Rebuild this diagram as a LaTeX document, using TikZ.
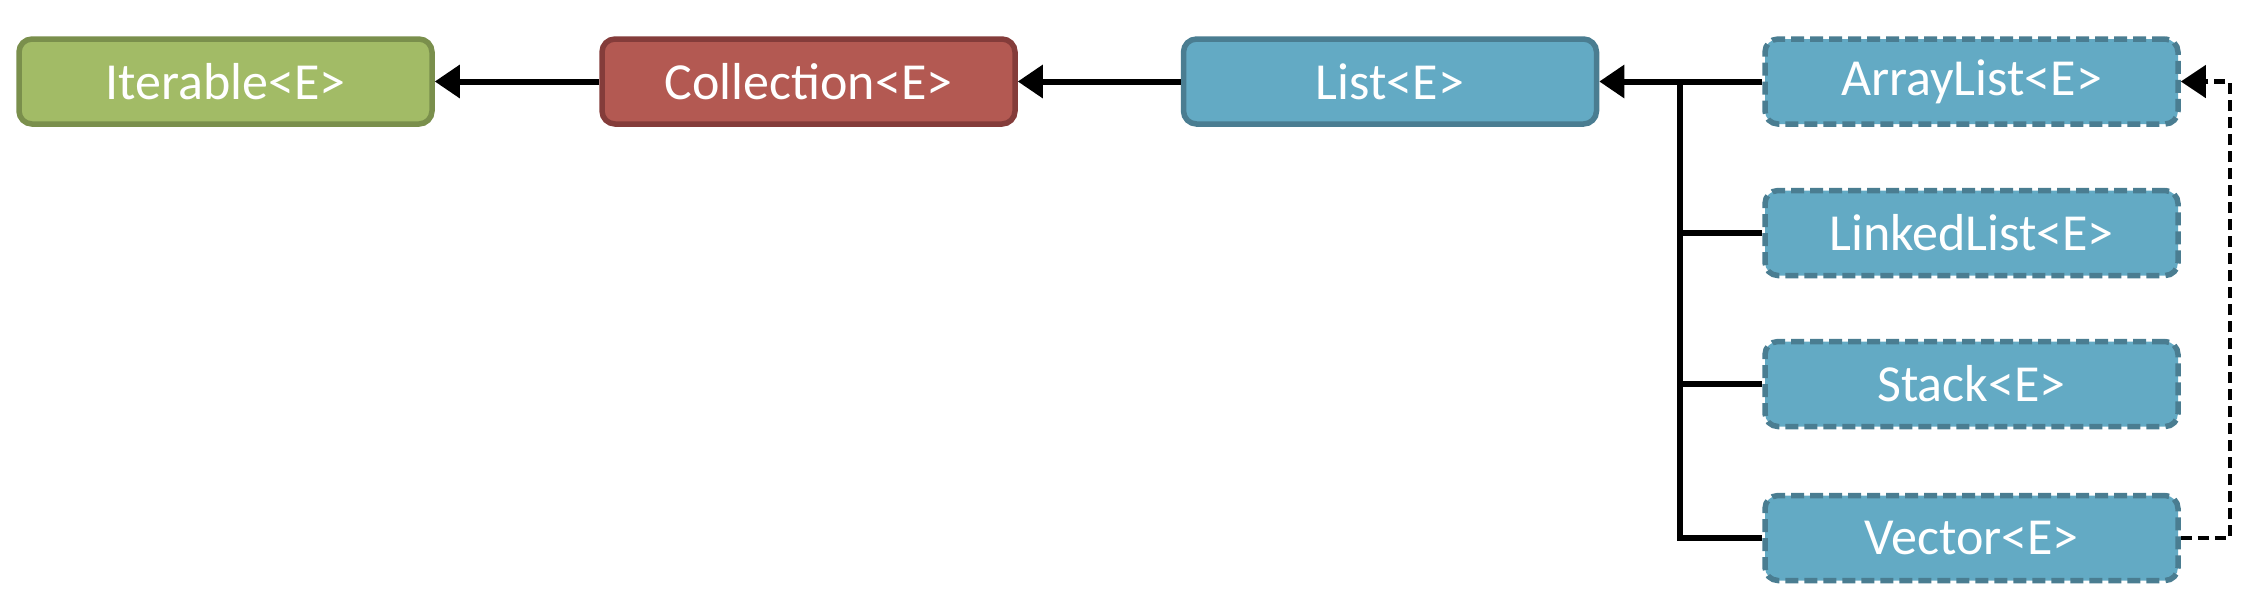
\documentclass[tikz,border=0pt]{standalone}
\usepackage{fontspec}
\setmainfont{Carlito}
\usetikzlibrary{arrows.meta}
\definecolor{gfill}{HTML}{A2BB66}
\definecolor{gdraw}{HTML}{7A8F4C}
\definecolor{rfill}{HTML}{B35952}
\definecolor{rdraw}{HTML}{843C3A}
\definecolor{bfill}{HTML}{63AAC4}
\definecolor{bdraw}{HTML}{4A7D91}
\tikzset{
  box/.style={rectangle, rounded corners=13pt, line width=5.5pt, minimum width=413pt, minimum height=85pt,
    text=white, font=\fontsize{52}{60}\selectfont, inner sep=0pt},
  ifacebox/.style={box},
  classbox/.style={box, fill=bfill, draw=bdraw, dash pattern=on 13pt off 6pt},
  conn/.style={line width=6pt, draw=black, -{Triangle[length=25pt,width=32pt]}},
  plain/.style={line width=6pt, draw=black},
  dconn/.style={line width=4.5pt, draw=black, dash pattern=on 11pt off 6pt, -{Triangle[length=25pt,width=32pt]}}
}
\begin{document}
\begin{tikzpicture}[x=1pt,y=-1pt]
\useasboundingbox (0,0) rectangle (2256,614);
\node[ifacebox, fill=gfill, draw=gdraw] (iter) at (225.5,81.5) {Iterable<E>};
\node[ifacebox, fill=rfill, draw=rdraw] (coll) at (808.5,81.5) {Collection<E>};
\node[ifacebox, fill=bfill, draw=bdraw] (list) at (1390,81.5) {List<E>};
\node[classbox] (arr) at (1971.5,81.5) {ArrayList<E>};
\node[classbox] (link) at (1971.5,233) {LinkedList<E>};
\node[classbox] (stack) at (1971.5,384) {Stack<E>};
\node[classbox] (vec) at (1971.5,538) {Vector<E>};
\coordinate (trunk) at (1680,81.5);
\draw[conn] (coll.west) -- (iter.east);
\draw[conn] (list.west) -- (coll.east);
\draw[conn] (arr.west) -- (list.east);
\draw[plain] (vec.west) -- (trunk |- vec.west) -- (trunk);
\draw[plain] (link.west) -- (trunk |- link.west);
\draw[plain] (stack.west) -- (trunk |- stack.west);
\draw[dconn] (vec.east) -- ++(49,0) |- (arr.east);
\end{tikzpicture}
\end{document}
